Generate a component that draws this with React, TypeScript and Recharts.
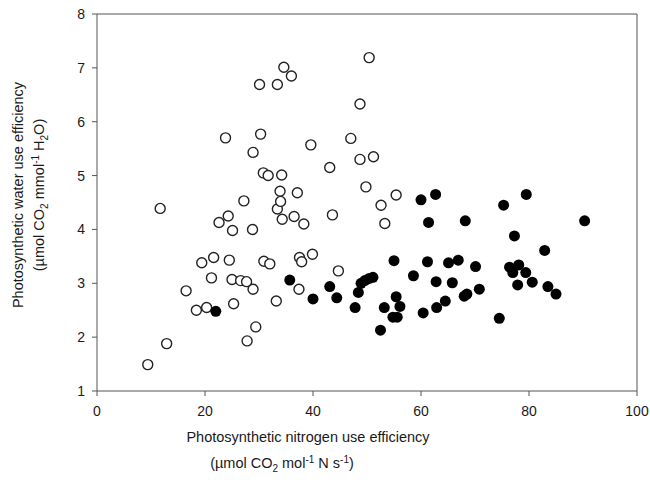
import React from 'react'
import { ScatterChart, Scatter, XAxis, YAxis, ReferenceLine } from 'recharts'

// open symbols
const openX = [9.4, 12.9, 11.7, 16.5, 18.4, 19.4, 20.3, 21.2, 21.6, 22.6, 23.8, 24.3, 24.5, 25.1, 25.0, 25.3, 26.6, 27.2, 27.7, 27.8, 28.8, 28.9, 28.9, 29.4, 30.1, 30.3, 30.8, 30.9, 31.7, 32.0, 33.2, 33.4, 33.4, 33.9, 34.0, 34.2, 34.3, 34.6, 36.0, 36.5, 37.1, 37.4, 37.5, 37.9, 38.3, 39.6, 39.9, 43.1, 43.6, 44.7, 47.0, 48.7, 48.7, 49.8, 50.4, 51.2, 52.6, 53.3, 55.4]
const openY = [1.49, 1.88, 4.39, 2.86, 2.5, 3.38, 2.55, 3.1, 3.48, 4.13, 5.7, 4.25, 3.43, 3.98, 3.07, 2.62, 3.05, 4.53, 3.03, 1.93, 4.0, 2.89, 5.43, 2.19, 6.69, 5.77, 5.05, 3.41, 5.0, 3.36, 2.67, 6.69, 4.38, 4.71, 4.52, 5.01, 4.19, 7.01, 6.85, 4.24, 4.68, 2.89, 3.48, 3.4, 4.1, 5.57, 3.54, 5.15, 4.27, 3.23, 5.69, 6.33, 5.3, 4.79, 7.19, 5.35, 4.45, 4.11, 4.64]

// filled symbols
const filledX = [22.0, 35.7, 40.0, 43.1, 44.4, 47.8, 48.4, 48.9, 49.6, 50.4, 51.1, 52.5, 53.2, 54.8, 55.0, 55.4, 55.6, 56.1, 58.6, 60.0, 60.4, 61.2, 61.4, 62.7, 62.8, 62.9, 64.5, 65.1, 65.8, 66.9, 68.0, 68.2, 68.5, 70.1, 70.8, 74.5, 75.3, 76.4, 77.0, 77.3, 77.9, 78.1, 79.4, 79.5, 80.6, 82.9, 83.5, 85.0, 90.3]
const filledY = [2.48, 3.06, 2.71, 2.94, 2.73, 2.55, 2.83, 3.0, 3.05, 3.09, 3.11, 2.13, 2.55, 2.37, 3.42, 2.75, 2.37, 2.57, 3.14, 4.55, 2.45, 3.4, 4.13, 4.65, 3.03, 2.55, 2.67, 3.38, 3.01, 3.43, 2.76, 4.16, 2.8, 3.31, 2.89, 2.35, 4.45, 3.3, 3.2, 3.88, 2.97, 3.34, 3.2, 4.65, 3.02, 3.61, 2.94, 2.8, 4.16]

const xTicks = [0, 20, 40, 60, 80, 100]
const yTicks = [1, 2, 3, 4, 5, 6, 7, 8]

const openData = openX.map((x, i) => ({ x, y: openY[i] }))
const filledData = filledX.map((x, i) => ({ x, y: filledY[i] }))

const FONT = '"Liberation Sans", Arial, sans-serif'
const AXIS = '#555'

const OpenDot = (props: any) => (
  <circle cx={props.cx} cy={props.cy} r={5} fill="#fff" stroke="#222" strokeWidth={1.4} />
)
const FilledDot = (props: any) => (
  <circle cx={props.cx} cy={props.cy} r={5.5} fill="#000" />
)

const XLabel = () => (
  <g fontFamily={FONT} fontSize={14.5} fill="#1a1a1a">
    <text x={308} y={442} textAnchor="middle">Photosynthetic nitrogen use efficiency</text>
    <text x={282} y={468} textAnchor="middle">
      (µmol CO<tspan fontSize={10} dy={4}>2</tspan>
      <tspan dy={-4}> mol</tspan>
      <tspan fontSize={10} dy={-5}>-1</tspan>
      <tspan dy={5}> N s</tspan>
      <tspan fontSize={10} dy={-5}>-1</tspan>
      <tspan dy={5}>)</tspan>
    </text>
  </g>
)

const YLabel = () => (
  <g fontFamily={FONT} fontSize={14.5} fill="#1a1a1a">
    <text x={0} y={0} textAnchor="middle" transform="translate(23,195) rotate(-90)">
      Photosynthetic water use efficiency
    </text>
    <text x={0} y={0} textAnchor="middle" transform="translate(44,195) rotate(-90)">
      (µmol CO<tspan fontSize={10} dy={4}>2</tspan>
      <tspan dy={-4}> mmol</tspan>
      <tspan fontSize={10} dy={-5}>-1</tspan>
      <tspan dy={5}> H</tspan>
      <tspan fontSize={10} dy={4}>2</tspan>
      <tspan dy={-4}>O)</tspan>
    </text>
  </g>
)

export default function App() {
  return (
    <div style={{ position: 'absolute', left: 0, top: 0, width: 650, height: 484, background: '#fff' }}>
      <ScatterChart width={650} height={484} margin={{ top: 14, right: 13, left: 0, bottom: 0 }}>
        <XAxis
          type="number"
          dataKey="x"
          domain={[0, 100]}
          ticks={xTicks}
          height={93}
          tickSize={5}
          tickMargin={10}
          stroke={AXIS}
          tick={{ fill: '#1a1a1a', fontSize: 14, fontFamily: FONT }}
          label={{ content: () => <XLabel /> }}
        />
        <YAxis
          type="number"
          dataKey="y"
          domain={[1, 8]}
          ticks={yTicks}
          width={97}
          tickSize={5}
          tickMargin={7}
          stroke={AXIS}
          tick={{ fill: '#1a1a1a', fontSize: 14, fontFamily: FONT }}
          label={{ content: () => <YLabel /> }}
        />
        <ReferenceLine y={8} stroke={AXIS} />
        <ReferenceLine x={100} stroke={AXIS} />
        <Scatter data={openData} shape={OpenDot} isAnimationActive={false} />
        <Scatter data={filledData} shape={FilledDot} isAnimationActive={false} />
      </ScatterChart>
    </div>
  )
}
